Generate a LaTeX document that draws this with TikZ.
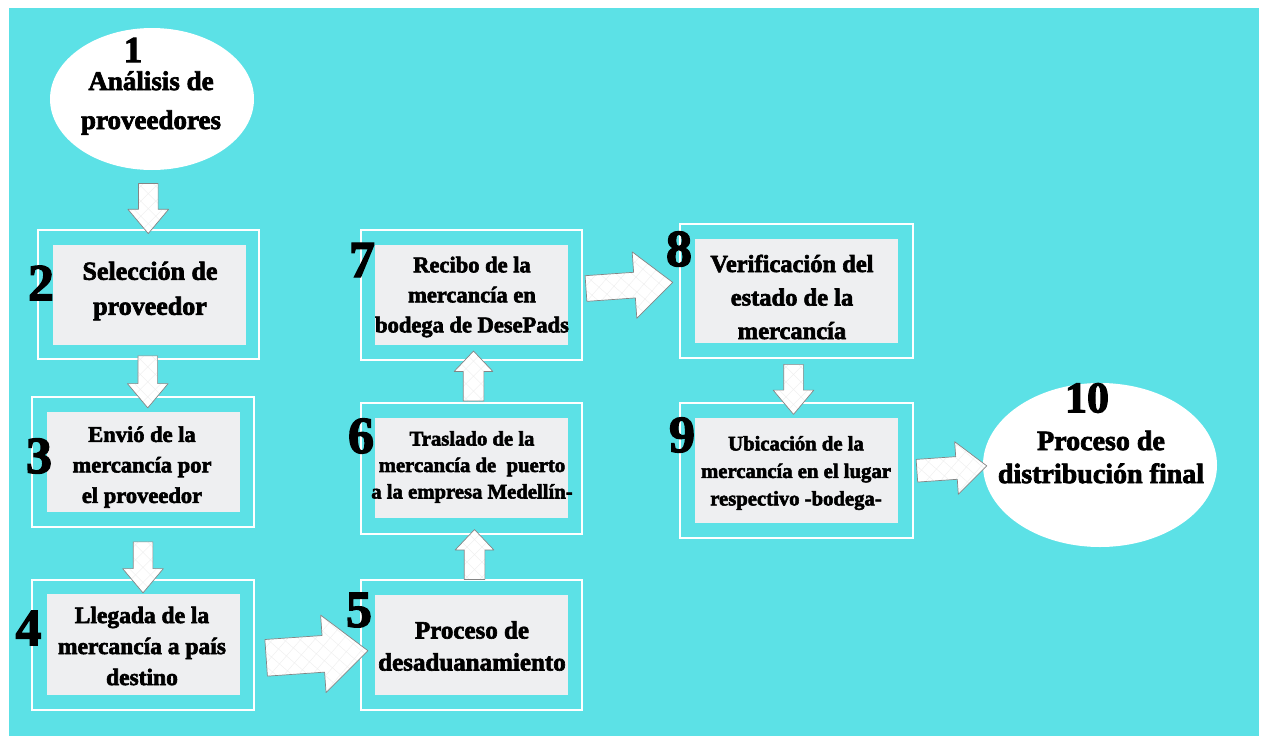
\documentclass[tikz,border=0pt]{standalone}
\usepackage{fontspec}
\setmainfont{Liberation Serif}
\newfontfamily\fatfont{Liberation Serif Bold}[FakeBold=2.6]
\usetikzlibrary{shapes.geometric,shapes.arrows,calc}
\definecolor{bgcyan}{HTML}{5CE1E6}
\definecolor{boxgray}{HTML}{EEEFF1}
\definecolor{arrline}{HTML}{858585}
\newcommand{\txtsz}[2]{\fatfont\fontsize{#1}{#2}\selectfont}
\tikzset{
  frame/.style={draw=white, line width=1.6pt, fill=none, inner sep=0pt},
  inbox/.style={fill=boxgray, draw=none, inner sep=0pt},
  oval/.style={ellipse, fill=white, draw=none, inner sep=0pt},
  txt/.style={align=center, inner sep=0pt, text=black},
  num/.style={inner sep=0pt, text=black},
  blk/.style={shape=single arrow, draw=arrline, fill=white, line width=0.7pt,
    inner xsep=0pt, single arrow head indent=0pt, line join=round,
    path picture={
      \foreach \k in {-5,...,5}{
        \draw[black!7, line width=0.35pt]
          ($(path picture bounding box.center)+(\k*15pt,0pt)$) ++(-60pt,-60pt) -- ++(120pt,120pt);
        \draw[black!7, line width=0.35pt]
          ($(path picture bounding box.center)+(\k*15pt,0pt)$) ++(-60pt,60pt) -- ++(120pt,-120pt);
      }}},
  downarr/.style={blk, rotate=-90, minimum height=50pt, inner ysep=9.5pt,
    single arrow head extend=10.5pt, single arrow tip angle=80},
  uparr/.style={blk, rotate=90, minimum height=50pt, inner ysep=10pt,
    single arrow head extend=9pt, single arrow tip angle=87},
}
\begin{document}
\begin{tikzpicture}[x=1pt,y=-1pt]
\useasboundingbox (0,0) rectangle (1264,736);
\fill[white] (0,0) rectangle (1264,736);
\fill[bgcyan] (9,8) rectangle (1259,736);

% ellipse 1
\node[oval, minimum width=204pt, minimum height=142pt] (e1) at (152,99) {};
\node[num, font=\txtsz{37}{37}] (n1) at (133,50) {1};
\node[txt, font=\txtsz{27}{39}] (t1) at (151,103) {Análisis de\\proveedores};

% frames
\node[frame, minimum width=221pt, minimum height=129pt] (f2) at (148.5,294.5) {};
\node[frame, minimum width=222pt, minimum height=130pt] (f3) at (143,462) {};
\node[frame, minimum width=222pt, minimum height=130pt] (f4) at (143,645) {};
\node[frame, minimum width=221pt, minimum height=130pt] (f5) at (471.5,645) {};
\node[frame, minimum width=221pt, minimum height=131pt] (f6) at (471.5,468.5) {};
\node[frame, minimum width=221pt, minimum height=130pt] (f7) at (471.5,295) {};
\node[frame, minimum width=233pt, minimum height=134pt] (f8) at (796.5,291) {};
\node[frame, minimum width=233pt, minimum height=135pt] (f9) at (796.5,470.5) {};

% inner boxes
\node[inbox, minimum width=193pt, minimum height=100pt] (i2) at (149.5,295) {};
\node[inbox, minimum width=193pt, minimum height=100pt] (i3) at (143.5,462) {};
\node[inbox, minimum width=193pt, minimum height=101pt] (i4) at (143.5,644.5) {};
\node[inbox, minimum width=193pt, minimum height=100pt] (i5) at (471.5,645) {};
\node[inbox, minimum width=193pt, minimum height=100pt] (i6) at (471.5,468) {};
\node[inbox, minimum width=193pt, minimum height=100pt] (i7) at (471.5,295) {};
\node[inbox, minimum width=203pt, minimum height=104pt] (i8) at (796.5,291) {};
\node[inbox, minimum width=203pt, minimum height=105pt] (i9) at (796.5,470.5) {};

% ellipse 10
\node[oval, minimum width=234pt, minimum height=164pt] (e10) at (1100,465) {};

% texts
\node[txt, font=\txtsz{26}{35}] (t2) at (150,291) {Selección de\\proveedor};
\node[txt, font=\txtsz{22.5}{30.5}] (t3) at (142,467) {Envió de la\\mercancía por\\el proveedor};
\node[txt, font=\txtsz{23.5}{31}] (t4) at (142,646) {Llegada de la\\mercancía a país\\destino};
\node[txt, font=\txtsz{25}{32}] (t5) at (472,646) {Proceso de\\desaduanamiento};
\node[txt, font=\txtsz{20.7}{26.5}] (t6) at (472,467) {Traslado de la\\mercancía de\ \ puerto\\a la empresa Medellín-};
\node[txt, font=\txtsz{22.5}{30}] (t7) at (472,297) {Recibo de la\\mercancía en\\bodega de DesePads};
\node[txt, font=\txtsz{24.5}{33.5}] (t8) at (792,297) {Verificación del\\estado de la\\mercancía};
\node[txt, font=\txtsz{20.7}{27.5}] (t9) at (796,473) {Ubicación de la\\mercancía en el lugar\\respectivo -bodega-};
\node[txt, font=\txtsz{28}{33}] (t10) at (1101,457) {Proceso de\\distribución final};

% numbers
\node[num, font=\txtsz{52}{52}] (n2) at (41,283) {2};
\node[num, font=\txtsz{52}{52}] (n3) at (39,456) {3};
\node[num, font=\txtsz{52}{52}] (n4) at (28.5,628) {4};
\node[num, font=\txtsz{52}{52}] (n5) at (359,610) {5};
\node[num, font=\txtsz{52}{52}] (n6) at (361,436) {6};
\node[num, font=\txtsz{52}{52}] (n7) at (362,260) {7};
\node[num, font=\txtsz{52}{52}] (n8) at (679,249) {8};
\node[num, font=\txtsz{52}{52}] (n9) at (682,435) {9};
\node[num, font=\txtsz{44}{44}] (n10) at (1087,398) {10};

% block arrows
\node[downarr] (a12) at ($(e1.south)!0.5!(f2.north)+(-2,3)$) {};
\node[downarr, minimum height=52pt] (a23) at ($(f2.south)!0.5!(f3.north)+(2,-2)$) {};
\node[downarr, minimum height=51pt] (a34) at ($(f3.south)!0.5!(f4.north)+(0,8)$) {};
\node[downarr] (a89) at ($(f8.south)!0.5!(f9.north)+(-3,3)$) {};
\node[uparr] (a56) at ($(f5.north)!0.5!(f6.south)+(3,3)$) {};
\node[uparr] (a67) at ($(f6.north)!0.5!(f7.south)+(2,0)$) {};
\node[blk, rotate=4, minimum height=102pt, inner ysep=18pt,
  single arrow head extend=20.5pt, single arrow tip angle=82]
  (a45) at ($(f4.east)!0.5!(f5.west)+(-1,10)$) {};
\node[blk, rotate=4, minimum height=87pt, inner ysep=12.5pt,
  single arrow head extend=20.5pt, single arrow tip angle=82]
  (a78) at ($(f7.east)!0.5!(f8.west)+(-9,-7)$) {};
\node[blk, rotate=4, minimum height=70pt, inner ysep=11pt,
  single arrow head extend=15pt, single arrow tip angle=82]
  (a910) at ($(f9.east)!0.5!(e10.west)+(-3,1)$) {};
\end{tikzpicture}
\end{document}
